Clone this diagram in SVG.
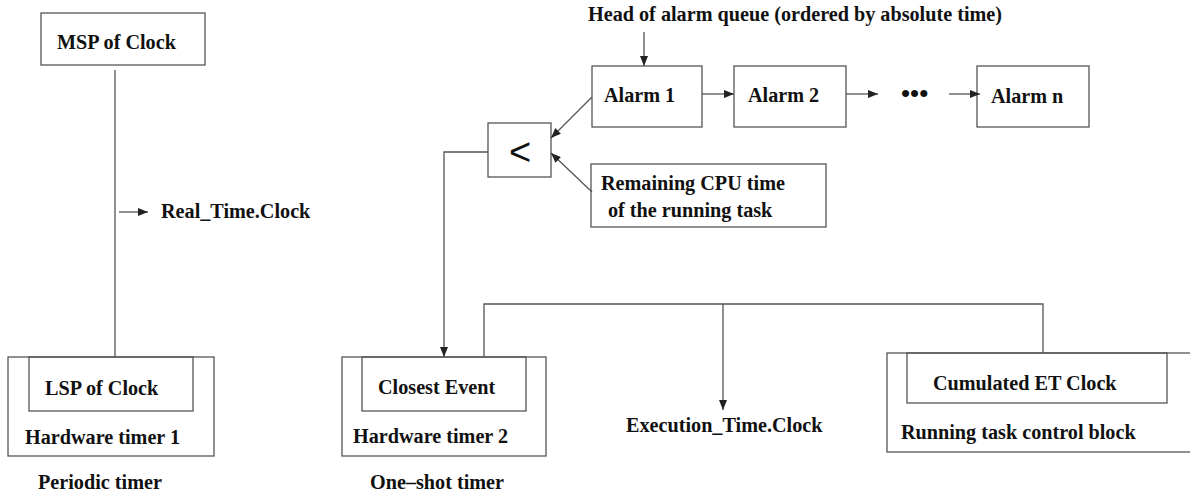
<svg xmlns="http://www.w3.org/2000/svg" width="1190" height="495" viewBox="0 0 1190 495">
<defs>
<marker id="ah" viewBox="0 0 10 8" refX="10" refY="4" markerWidth="10" markerHeight="8" markerUnits="userSpaceOnUse" orient="auto">
<path d="M0,0 L10,4 L0,8 z" fill="#222"/>
</marker>
</defs>
<style>
.b{fill:none;stroke:#555;stroke-width:1.3}
.c{fill:none;stroke:#555;stroke-width:1.3}
.a{marker-end:url(#ah)}
text{font-family:"Liberation Serif","Times New Roman",serif;font-weight:bold;font-size:20.2px;fill:#111}
.lt{font-family:"Liberation Sans",Arial,sans-serif;font-weight:normal;font-size:38px}
.dots{font-size:26px}
</style>
<rect width="1190" height="495" fill="#fff"/>
<g id="msp"><rect class="b" x="41" y="13" width="164" height="52"/><text x="57" y="49">MSP of Clock</text></g>
<g id="hw1"><rect class="b" x="8" y="357" width="206" height="99"/><rect class="b" x="29" y="357" width="164" height="54"/><text x="45" y="395">LSP of Clock</text><text x="25" y="444">Hardware timer 1</text></g>
<g id="periodic"><text x="38" y="489">Periodic timer</text></g>
<g id="rtc"><text x="161" y="218">Real_Time.Clock</text></g>
<g id="head"><text x="588" y="21">Head of alarm queue (ordered by absolute time)</text></g>
<g id="alarm1"><rect class="b" x="592" y="66" width="110" height="61"/><text x="604" y="102">Alarm 1</text></g>
<g id="alarm2"><rect class="b" x="734" y="66" width="112" height="61"/><text x="748" y="102">Alarm 2</text></g>
<g id="dots"><text class="dots" x="901" y="102">•••</text></g>
<g id="alarmn"><rect class="b" x="977" y="66" width="112" height="61"/><text x="991" y="103">Alarm n</text></g>
<g id="lt"><rect class="b" x="488" y="123" width="63" height="54"/><text class="lt" x="520" y="165" text-anchor="middle">&lt;</text></g>
<g id="remaining"><rect class="b" x="591" y="164" width="235" height="63"/><text x="601" y="190">Remaining CPU time</text><text x="608" y="217">of the running task</text></g>
<g id="hw2"><rect class="b" x="342" y="357" width="204" height="99"/><rect class="b" x="362" y="357" width="164" height="54"/><text x="378" y="394">Closest Event</text><text x="353" y="443">Hardware timer 2</text></g>
<g id="oneshot"><text x="370" y="489">One–shot timer</text></g>
<g id="etc"><text x="626" y="432">Execution_Time.Clock</text></g>
<g id="tcb"><rect class="b" x="887" y="353" width="320" height="99"/><rect class="b" x="907" y="353" width="260" height="50"/><text x="933" y="390">Cumulated ET Clock</text><text x="901" y="439">Running task control block</text></g>
<g id="connectors">
<path class="c" d="M115,70 V357"/>
<path class="c a" d="M119,212 H148"/>
<path class="c a" d="M644,32 V66"/>
<path class="c a" d="M702,94 H734"/>
<path class="c a" d="M846,94 H878"/>
<path class="c a" d="M949,94 H980"/>
<path class="c a" d="M592,97 L551,138"/>
<path class="c a" d="M592,192 L551,153"/>
<path class="c a" d="M488,152 H444 V357"/>
<path class="c" d="M484,357 V304 H1043 V353"/>
<path class="c a" d="M723,304 V410"/>
</g>
</svg>
